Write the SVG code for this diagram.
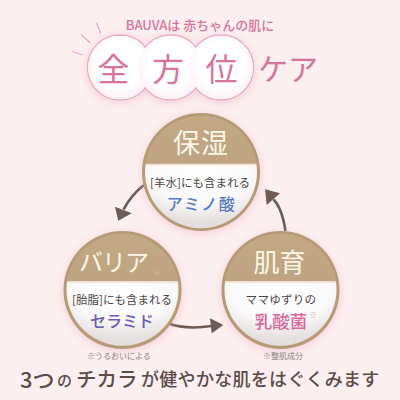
<svg xmlns="http://www.w3.org/2000/svg" width="400" height="400" viewBox="0 0 400 400">
<defs>
<style>
text{font-family:"Noto Sans CJK JP","Noto Sans",sans-serif;dominant-baseline:central;text-anchor:middle}
.pink{fill:#d6749a}
.title{fill:#fbf6e6;font-size:27px}
.sub{fill:#4d4545;font-size:11.5px}
.note{fill:#8a8080;font-size:8px}
.mark{fill:#c9b8b8;font-size:7px}
.ring{fill:#b69a76}
.band{fill:url(#goldg)}
.white{fill:url(#whiteg)}
.hl{stroke:#efe5d6;stroke-width:1.5;fill:none}
.conn{fill:none;stroke:#6e5b56;stroke-width:2.6}
.head{fill:#6e5b56}
.deco{stroke:#e8a9bd;stroke-width:1.2;stroke-linecap:round}
</style>
<linearGradient id="goldg" x1="0" y1="0" x2="0" y2="1">
<stop offset="0" stop-color="#c3a885"/><stop offset="1" stop-color="#bb9e7b"/>
</linearGradient>
<radialGradient id="whiteg" cx="0.5" cy="0.15" r="0.75">
<stop offset="0" stop-color="#ffffff"/><stop offset="0.6" stop-color="#faf9f9"/><stop offset="1" stop-color="#e4dfde"/>
</radialGradient>
<radialGradient id="hdrg" cx="0.5" cy="0.45" r="0.6">
<stop offset="0.6" stop-color="#ffffff"/><stop offset="1" stop-color="#fcedf1"/>
</radialGradient>
<filter id="glow" x="-30%" y="-30%" width="160%" height="160%">
<feGaussianBlur in="SourceAlpha" stdDeviation="5" result="b"/>
<feOffset in="b" dy="2" result="o"/>
<feFlood flood-color="#e8a4b6" flood-opacity="0.45"/>
<feComposite in2="o" operator="in" result="s"/>
<feMerge><feMergeNode in="s"/><feMergeNode in="SourceGraphic"/></feMerge>
</filter>
</defs>
<rect width="400" height="400" fill="#fcefef"/>

<g id="header">
<text x="200" y="24" class="pink" style="font-size:13px;font-weight:500">BAUVAは 赤ちゃんの肌に</text>
<line class="deco" x1="96.7" y1="23.3" x2="100.7" y2="33.3"/>
<line class="deco" x1="81.7" y1="35" x2="90" y2="42.7"/>
<line class="deco" x1="72.7" y1="51.7" x2="82.7" y2="55"/>
<g filter="url(#glow)">
<circle cx="120" cy="67.5" r="32.5" fill="#fff" stroke="#e8acc0" stroke-width="1.4"/>
<circle cx="170.5" cy="67.5" r="32.5" fill="#fff" stroke="#e8acc0" stroke-width="1.4"/>
<circle cx="221" cy="67.5" r="32.5" fill="#fff" stroke="#e8acc0" stroke-width="1.4"/>
</g>
<circle cx="120" cy="67.5" r="31.8" fill="url(#hdrg)"/>
<circle cx="170.5" cy="67.5" r="31.8" fill="url(#hdrg)"/>
<circle cx="221" cy="67.5" r="31.8" fill="url(#hdrg)"/>
<text x="113.5" y="67" class="pink" style="font-size:32px">全</text>
<text x="168" y="67" class="pink" style="font-size:32px">方</text>
<text x="221.5" y="67" class="pink" style="font-size:32px">位</text>
<text x="288" y="67" class="pink" style="font-size:30px">ケア</text>
</g>

<g id="connectors">
<path class="conn" d="M144,185 Q132,194 123.5,209.5"/>
<polygon class="head" points="118.3,220.7 115,206.7 131.7,213.3"/>
<path class="conn" d="M167,323 Q186,330 211.5,326"/>
<polygon class="head" points="223.3,325 210,318.3 211.7,333.3"/>
<path class="conn" d="M285.5,231 Q282,208 273.5,199.5"/>
<polygon class="head" points="265,189.3 280,193.3 266.7,205"/>
</g>

<g id="node-hoshitsu">
<circle cx="201" cy="172" r="59" class="ring" filter="url(#glow)"/>
<circle cx="201" cy="172" r="56.3" class="band"/>
<path class="white" d="M145.6,164 L256.4,164 A56 56 0 1 1 145.6,164 Z"/>
<line class="hl" x1="146" y1="164.5" x2="256" y2="164.5"/>
<text x="201" y="141.5" class="title" style="letter-spacing:1px">保湿</text>
<text x="200" y="182" class="sub">[羊水]にも含まれる</text>
<text x="201.5" y="203" style="fill:#5a7bbd;font-size:16px;font-weight:500;letter-spacing:1.5px">アミノ酸</text>
</g>

<g id="node-barrier">
<circle cx="122.5" cy="290" r="59" class="ring" filter="url(#glow)"/>
<circle cx="122.5" cy="290" r="56.3" class="band"/>
<path class="white" d="M67.1,281.5 L177.9,281.5 A56 56 0 1 1 67.1,281.5 Z"/>
<line class="hl" x1="67.5" y1="282" x2="177.5" y2="282"/>
<text x="113.5" y="260" class="title" style="font-size:24px;letter-spacing:-1px">バリア</text>
<text x="157" y="272" class="mark">※</text>
<text x="122" y="299" class="sub">[胎脂]にも含まれる</text>
<text x="122" y="320" style="fill:#6b59b3;font-size:16px;font-weight:500">セラミド</text>
</g>

<g id="node-hadaiku">
<circle cx="280.5" cy="290" r="59" class="ring" filter="url(#glow)"/>
<circle cx="280.5" cy="290" r="56.3" class="band"/>
<path class="white" d="M225.1,281.5 L335.9,281.5 A56 56 0 1 1 225.1,281.5 Z"/>
<line class="hl" x1="225.5" y1="282" x2="335.5" y2="282"/>
<text x="279.5" y="260" class="title" style="font-size:26px">肌育</text>
<text x="281" y="299" class="sub" style="letter-spacing:0.3px">ママゆずりの</text>
<text x="281" y="320" style="fill:#d86a9c;font-size:17.5px;font-weight:500">乳酸菌</text>
<text x="313" y="314" class="mark" style="font-size:8px">※</text>
</g>

<text x="119" y="355" class="note">※うるおいによる</text>
<text x="283" y="355" class="note">※整肌成分</text>

<g id="footer" style="fill:#5b4c4a;font-weight:500">
<text x="20" y="378" style="text-anchor:start;font-size:22px">3つ</text>
<text x="57" y="379" style="text-anchor:start;font-size:15px">の</text>
<text x="76" y="378" style="text-anchor:start;font-size:20.5px">チカラ</text>
<text x="141" y="378" style="text-anchor:start;font-size:18px;letter-spacing:0.3px">が健やかな肌をはぐくみます</text>
</g>
</svg>
